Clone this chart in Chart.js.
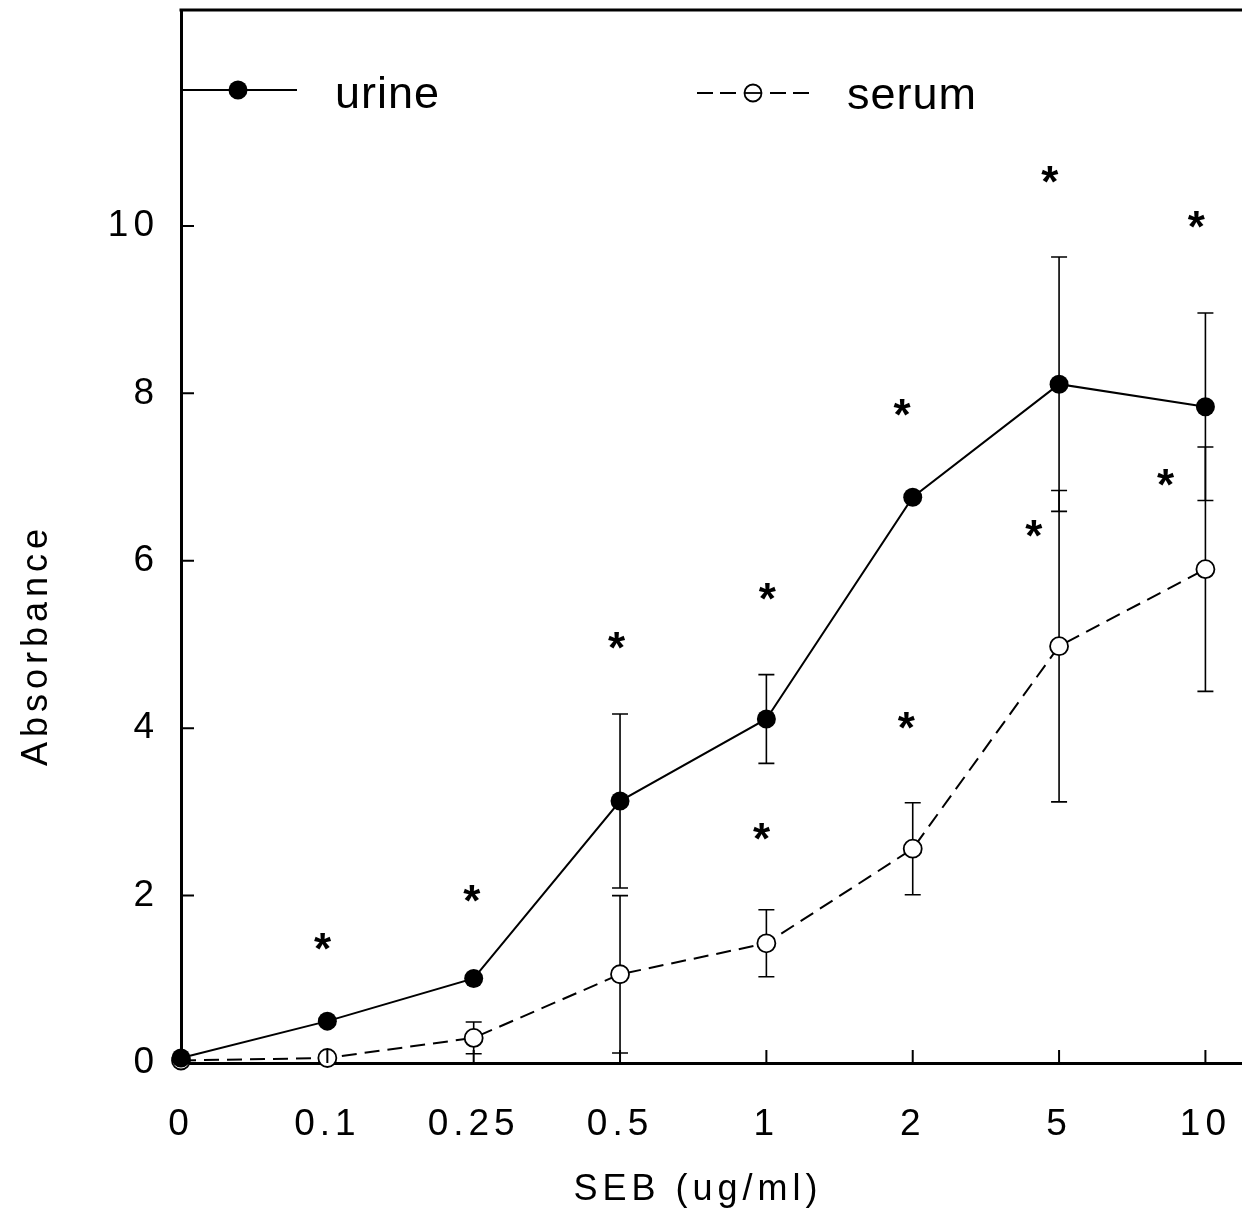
<!DOCTYPE html>
<html><head><meta charset="utf-8">
<style>html,body{margin:0;padding:0;background:#fff;overflow:hidden;}#wrap{width:1242px;height:1213px;}canvas{display:block;}</style>
<script src="https://cdn.jsdelivr.net/npm/chart.js@4.4.1/dist/chart.umd.min.js"></script>
</head><body><div id="wrap"><canvas id="c" width="1242" height="1213"></canvas></div>
<script>
const categories = ['0', '0.1', '0.25', '0.5', '1', '2', '5', '10'];
const urine    = [0.06, 0.50, 1.01, 3.13, 4.11, 6.76, 8.11, 7.84];
const urineErr = [0,    0,    0,    1.04, 0.53, 0,    1.52, 1.12];
const serum    = [0.03, 0.06, 0.30, 1.06, 1.43, 2.56, 4.98, 5.90];
const serumErr = [0,    0,    0.19, 0.94, 0.40, 0.55, 1.86, 1.46];
const starX = [0.97, 1.99, 2.98, 4.01, 3.97, 4.93, 4.96, 5.94, 5.83, 6.94, 6.73];
const starY = [1.45, 2.03, 5.05, 5.63, 2.77, 7.83, 4.09, 10.61, 6.39, 10.08, 7.00];
const yTicks = [0, 2, 4, 6, 8, 10];
const seriesNames = ['urine', 'serum'];
const xTitle = 'SEB (ug/ml)';
const yTitle = 'Absorbance';

const FONT = '"Liberation Sans", Arial, Helvetica, sans-serif';
const SPACING = '5px';

const spacingPlugin = {
  id: 'spacing',
  beforeDraw(chart) { chart.ctx.letterSpacing = SPACING; }
};

const errorBars = {
  id: 'errorBars',
  beforeDatasetsDraw(chart) {
    const ctx = chart.ctx, xs = chart.scales.x, ys = chart.scales.y;
    const sets = [[urine, urineErr], [serum, serumErr]];
    ctx.save();
    ctx.strokeStyle = '#000';
    ctx.lineWidth = 1.6;
    sets.forEach(([vals, errs]) => {
      vals.forEach((v, i) => {
        if (!errs[i]) return;
        const px = xs.getPixelForValue(i);
        const top = ys.getPixelForValue(v + errs[i]);
        const bot = ys.getPixelForValue(v - errs[i]);
        ctx.beginPath();
        ctx.moveTo(px, top); ctx.lineTo(px, bot);
        ctx.moveTo(px - 8, top); ctx.lineTo(px + 8, top);
        ctx.moveTo(px - 8, bot); ctx.lineTo(px + 8, bot);
        ctx.stroke();
      });
    });
    ctx.restore();
  }
};

const frame = {
  id: 'frame',
  afterDraw(chart) {
    const ctx = chart.ctx, a = chart.chartArea, xs = chart.scales.x, ys = chart.scales.y;
    ctx.save();
    ctx.letterSpacing = '0px';
    ctx.strokeStyle = '#000';
    ctx.lineWidth = 3;
    ctx.beginPath(); ctx.moveTo(a.left - 1.5, a.top); ctx.lineTo(chart.width, a.top); ctx.stroke();
    ctx.lineWidth = 2;
    ctx.beginPath();
    yTicks.forEach(v => { const py = ys.getPixelForValue(v); ctx.moveTo(a.left, py); ctx.lineTo(a.left + 13, py); });
    categories.forEach((c, i) => { const px = xs.getPixelForValue(i); ctx.moveTo(px, a.bottom); ctx.lineTo(px, a.bottom - 13); });
    ctx.stroke();

    ctx.fillStyle = '#000';
    ctx.font = 'bold 44px ' + FONT;
    ctx.textAlign = 'left';
    ctx.textBaseline = 'alphabetic';
    const m = ctx.measureText('*');
    const offY = (m.actualBoundingBoxAscent - m.actualBoundingBoxDescent) / 2;
    const offX = (m.actualBoundingBoxLeft - m.actualBoundingBoxRight) / 2;
    starX.forEach((sx, i) => {
      const px = xs.getPixelForValue(sx), py = ys.getPixelForValue(starY[i]);
      ctx.fillText('*', px + offX, py + offY);
    });

    // legend
    ctx.lineWidth = 2;
    ctx.beginPath(); ctx.moveTo(a.left, 90); ctx.lineTo(297, 90); ctx.stroke();
    ctx.beginPath(); ctx.arc(238, 90, 9.5, 0, Math.PI * 2); ctx.fill();
    ctx.beginPath();
    [[697, 713], [720, 736], [770, 786], [793, 809]].forEach(([x0, x1]) => { ctx.moveTo(x0, 93); ctx.lineTo(x1, 93); });
    ctx.stroke();
    ctx.lineWidth = 1.8;
    ctx.beginPath(); ctx.arc(753, 93, 8.5, 0, Math.PI * 2); ctx.stroke();
    ctx.beginPath(); ctx.moveTo(745, 93); ctx.lineTo(761, 93); ctx.stroke();
    ctx.font = '45px ' + FONT;
    ctx.letterSpacing = '1px';
    ctx.fillText(seriesNames[0], 335, 108);
    ctx.fillText(seriesNames[1], 847, 109);

    ctx.font = '36px ' + FONT;
    ctx.letterSpacing = SPACING;
    ctx.textAlign = 'center';
    ctx.fillText(xTitle, 698, 1200);
    ctx.save();
    ctx.translate(47, 645);
    ctx.rotate(-Math.PI / 2);
    ctx.fillText(yTitle, 0, 0);
    ctx.restore();
    ctx.restore();
  }
};

const noPad = s => { s.paddingTop = 0; s.paddingBottom = 0; s.paddingLeft = 0; s.paddingRight = 0; };
const pts = arr => arr.map((v, i) => ({ x: i, y: v }));

new Chart(document.getElementById('c'), {
  type: 'line',
  data: {
    datasets: [
      { label: seriesNames[0], data: pts(urine), borderColor: '#000', borderWidth: 2,
        pointRadius: 9.5, pointBackgroundColor: '#000', pointBorderColor: '#000', pointBorderWidth: 0,
        tension: 0, clip: false },
      { label: seriesNames[1], data: pts(serum), borderColor: '#000', borderWidth: 2, borderDash: [15, 8],
        pointRadius: 9, pointBackgroundColor: '#fff', pointBorderColor: '#000', pointBorderWidth: 1.8,
        tension: 0, clip: false }
    ]
  },
  options: {
    responsive: false,
    animation: false,
    devicePixelRatio: 1,
    layout: { autoPadding: false, padding: { top: 10, right: 0, left: 0, bottom: 0 } },
    plugins: { legend: { display: false }, tooltip: { enabled: false } },
    scales: {
      x: {
        type: 'linear', min: 0, max: 7.25,
        afterFit: s => { s.height = 150; noPad(s); },
        afterBuildTicks: s => { s.ticks = categories.map((_, i) => ({ value: i })); },
        ticks: { callback: v => categories[v] ?? '', font: { size: 37, family: FONT }, color: '#000',
                 padding: 40, maxRotation: 0, autoSkip: false },
        grid: { display: false, drawTicks: false },
        border: { display: true, color: '#000', width: 3 }
      },
      y: {
        type: 'linear', min: 0, max: 12.58,
        afterFit: s => { s.width = 181; noPad(s); },
        afterBuildTicks: s => { s.ticks = yTicks.map(v => ({ value: v })); },
        ticks: { font: { size: 37, family: FONT }, color: '#000', padding: 22 },
        grid: { display: false, drawTicks: false },
        border: { display: true, color: '#000', width: 3 }
      }
    }
  },
  plugins: [spacingPlugin, errorBars, frame]
});
</script></body></html>
